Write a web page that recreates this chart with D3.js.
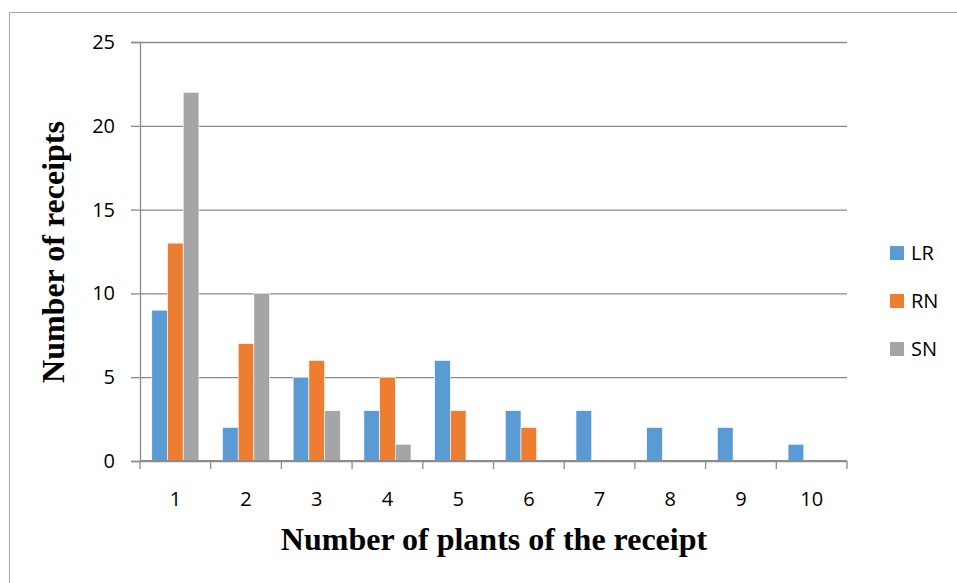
<!DOCTYPE html>
<html>
<head>
<meta charset="utf-8">
<script src="https://cdn.jsdelivr.net/npm/d3@7"></script>
<style>
  body { margin: 0; background: #fff; }
</style>
</head>
<body>
<svg id="chart"></svg>
<script>
const categories = ["1", "2", "3", "4", "5", "6", "7", "8", "9", "10"]
const seriesNames = ["LR", "RN", "SN"]
const lrValues = [9, 2, 5, 3, 6, 3, 3, 2, 2, 1]
const rnValues = [13, 7, 6, 5, 3, 2, 0, 0, 0, 0]
const snValues = [22, 10, 3, 1, 0, 0, 0, 0, 0, 0]
const yTicks = [0, 5, 10, 15, 20, 25]

const colors = { LR: "#5b9bd5", RN: "#ed7d31", SN: "#a5a5a5" }

// build table rows from the arrays
const rows = categories.map((c, i) => ({
  cat: c,
  LR: lrValues[i],
  RN: rnValues[i],
  SN: snValues[i],
}))

const W = 957, H = 583
const margin = { top: 42, right: 110, bottom: 122, left: 140 }
const width = 847 - margin.left
const height = 461 - margin.top
const sansFont = "'Open Sans', 'Liberation Sans', sans-serif"
const serifFont = "'Liberation Serif', 'Times New Roman', serif"

const root = d3.select("#chart").attr("width", W).attr("height", H)

// outer frame (only top and left edges are visible in the crop)
root.append("path")
  .attr("d", `M9.5,${H} V12.5 H${W}`)
  .attr("fill", "none")
  .attr("stroke", "#a6a6a6")
  .attr("stroke-width", 1)

const svg = root.append("g").attr("transform", `translate(${margin.left},${margin.top})`)

// X axis
const x = d3.scaleBand().domain(categories).range([0, width]).paddingInner(0).paddingOuter(0)
const x1 = d3.scaleBand().domain(seriesNames).range([0, x.bandwidth()]).paddingInner(0).paddingOuter(0.75)

// Y axis
const y = d3.scaleLinear().domain([0, 25]).range([height, 0])

// gridlines
svg.append("g")
  .call(d3.axisLeft(y).tickValues(yTicks).tickSize(-width).tickFormat(""))
  .call(g => g.select(".domain").remove())
  .call(g => g.selectAll("line").attr("stroke", "#8c8c8c").attr("stroke-width", 1.3))

// tick stubs to the left
svg.append("g")
  .call(d3.axisLeft(y).tickValues(yTicks).tickSize(9).tickPadding(16))
  .call(g => g.select(".domain").attr("stroke", "#8c8c8c").attr("stroke-width", 1.3))
  .call(g => g.selectAll("line").attr("stroke", "#8c8c8c").attr("stroke-width", 1.3))
  .call(g => g.selectAll("text")
    .attr("font-family", sansFont)
    .attr("font-size", 20)
    .attr("fill", "#000"))

// bars
const groups = svg.selectAll(".grp")
  .data(rows)
  .enter()
  .append("g")
  .attr("class", "grp")
  .attr("transform", d => `translate(${x(d.cat)},0)`)

groups.selectAll("rect")
  .data(d => seriesNames.map(s => ({ s, v: d[s] })).filter(e => e.v > 0))
  .enter()
  .append("rect")
  .attr("x", d => x1(d.s))
  .attr("y", d => y(d.v))
  .attr("width", x1.bandwidth())
  .attr("height", d => height - y(d.v))
  .attr("fill", d => colors[d.s])
  .attr("stroke", "#fff")
  .attr("stroke-width", 0.6)

// x axis with ticks between categories
const xAxisG = svg.append("g").attr("transform", `translate(0,${height})`)
xAxisG.append("line")
  .attr("x1", 0).attr("x2", width)
  .attr("stroke", "#8c8c8c").attr("stroke-width", 1.8)
xAxisG.selectAll(".tk")
  .data(categories.concat(["end"]))
  .enter()
  .append("line")
  .attr("x1", (d, i) => i * x.step())
  .attr("x2", (d, i) => i * x.step())
  .attr("y1", 0).attr("y2", 8)
  .attr("stroke", "#8c8c8c").attr("stroke-width", 1.3)
xAxisG.selectAll(".lbl")
  .data(categories)
  .enter()
  .append("text")
  .attr("x", d => x(d) + x.bandwidth() / 2)
  .attr("y", 45)
  .attr("text-anchor", "middle")
  .attr("font-family", sansFont)
  .attr("font-size", 20)
  .text(d => d)

// axis titles
root.append("text")
  .attr("x", 494)
  .attr("y", 550)
  .attr("text-anchor", "middle")
  .attr("font-family", serifFont)
  .attr("font-weight", "bold")
  .attr("font-size", 32)
  .text("Number of plants of the receipt")

root.append("text")
  .attr("transform", "translate(64,252) rotate(-90)")
  .attr("text-anchor", "middle")
  .attr("font-family", serifFont)
  .attr("font-weight", "bold")
  .attr("font-size", 32)
  .text("Number of receipts")

// legend
const legend = root.append("g").attr("transform", "translate(890,246)")
const items = legend.selectAll("g")
  .data(seriesNames)
  .enter()
  .append("g")
  .attr("transform", (d, i) => `translate(0,${i * 48})`)
items.append("rect")
  .attr("width", 14).attr("height", 14)
  .attr("fill", d => colors[d])
items.append("text")
  .attr("x", 21).attr("y", 14)
  .attr("font-family", sansFont)
  .attr("font-size", 20)
  .text(d => d)
</script>
</body>
</html>
